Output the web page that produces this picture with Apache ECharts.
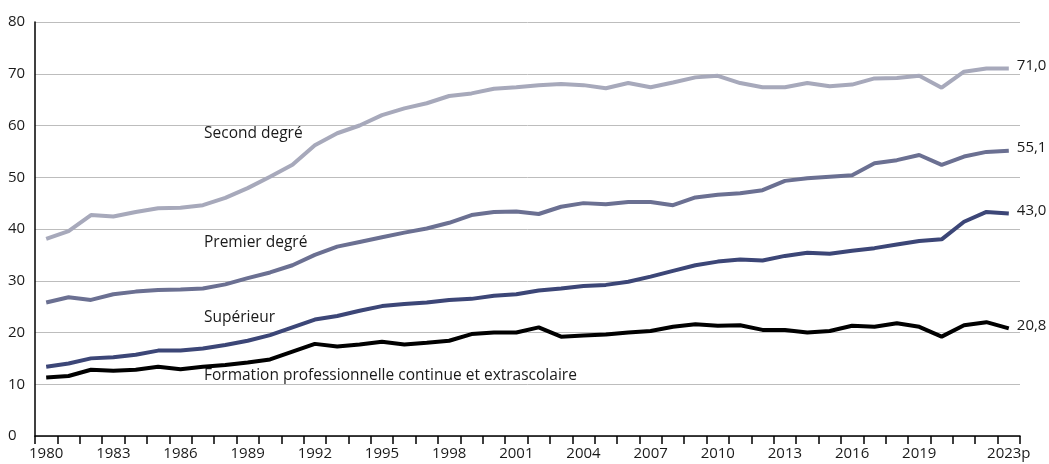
<!DOCTYPE html>
<html>
<head>
<meta charset="utf-8">
<script src="https://cdn.jsdelivr.net/npm/echarts@6/dist/echarts.min.js"></script>
<style>html,body{margin:0;padding:0;background:#fff}#c{width:1049px;height:464px}</style>
</head>
<body>
<div id="c"></div>
<script>
const years = ['1980','1981','1982','1983','1984','1985','1986','1987','1988','1989','1990','1991','1992','1993','1994','1995','1996','1997','1998','1999','2000','2001','2002','2003','2004','2005','2006','2007','2008','2009','2010','2011','2012','2013','2014','2015','2016','2017','2018','2019','2020','2021','2022','2023p'];
const secondDegre = [38.1,39.6,42.7,42.4,43.3,44.0,44.1,44.6,46.0,47.9,50.1,52.4,56.2,58.5,60.0,62.0,63.3,64.3,65.7,66.2,67.1,67.4,67.8,68.0,67.8,67.2,68.2,67.4,68.3,69.3,69.6,68.2,67.4,67.4,68.2,67.6,67.9,69.1,69.2,69.6,67.3,70.4,71.0,71.0];
const premierDegre = [25.8,26.8,26.3,27.4,27.9,28.2,28.3,28.5,29.3,30.5,31.6,33.0,35.0,36.6,37.5,38.4,39.3,40.1,41.2,42.7,43.3,43.4,42.9,44.3,45.0,44.8,45.2,45.2,44.6,46.1,46.6,46.9,47.5,49.3,49.8,50.1,50.4,52.7,53.3,54.3,52.4,54.0,54.9,55.1];
const superieur = [13.4,14.0,15.0,15.2,15.7,16.5,16.5,16.9,17.6,18.4,19.5,21.0,22.5,23.2,24.2,25.1,25.5,25.8,26.3,26.5,27.1,27.4,28.1,28.5,29.0,29.2,29.8,30.8,31.9,33.0,33.7,34.1,33.9,34.8,35.4,35.2,35.8,36.3,37.0,37.7,38.0,41.4,43.3,43.0];
const formation = [11.3,11.6,12.8,12.6,12.8,13.4,12.9,13.4,13.7,14.2,14.8,16.3,17.8,17.3,17.7,18.2,17.7,18.0,18.4,19.7,20.0,20.0,21.0,19.2,19.4,19.6,20.0,20.3,21.1,21.6,21.3,21.4,20.5,20.5,20.0,20.3,21.3,21.1,21.8,21.1,19.2,21.4,22.0,20.8];
const seriesNames = ['Second degré','Premier degré','Supérieur','Formation professionnelle continue et extrascolaire'];
const yTicks = [0,10,20,30,40,50,60,70,80];
const shownYearLabels = ['1980','1983','1986','1989','1992','1995','1998','2001','2004','2007','2010','2013','2016','2019','2023p'];

const FONT = 'Open Sans';
const colors = ['#a7a9bb','#6b7092','#3c4677','#000000'];
const dataSets = [secondDegre, premierDegre, superieur, formation];

const chart = echarts.init(document.getElementById('c'), null, {renderer:'canvas'});
const fmt = v => v.toFixed(1).replace('.', ',');

chart.setOption({
  animation: false,
  textStyle: {fontFamily: FONT},
  grid: {left: 35, right: 29, top: 22, bottom: 28, containLabel: false},
  xAxis: {
    type: 'category',
    data: years,
    boundaryGap: true,
    axisLine: {show: true, lineStyle: {color: '#000', width: 1.5}},
    axisTick: {show: true, interval: 0, length: 8, lineStyle: {color: '#000', width: 1.5}},
    axisLabel: {
      interval: (idx, val) => shownYearLabels.indexOf(val) >= 0,
      color: '#1a1a1a', fontSize: 15, margin: 10, fontFamily: FONT
    }
  },
  yAxis: {
    type: 'value',
    min: yTicks[0],
    max: yTicks[yTicks.length - 1],
    interval: 10,
    axisLine: {show: true, lineStyle: {color: '#000', width: 1.5}},
    axisTick: {show: false},
    splitLine: {show: true, lineStyle: {color: '#bdbdbd', width: 1}},
    axisLabel: {color: '#1a1a1a', fontSize: 15, align: 'left', margin: 27, padding: [0,0,8,0], fontFamily: FONT}
  },
  series: dataSets.map((d, i) => ({
    name: seriesNames[i],
    type: 'line',
    data: d,
    symbol: 'none',
    lineStyle: {color: colors[i], width: 4},
    itemStyle: {color: colors[i]},
    endLabel: {
      show: true,
      formatter: p => fmt(p.value),
      color: '#1a1a1a',
      fontSize: 15,
      distance: 8,
      offset: [0, -3],
      fontFamily: FONT
    },
    z: 10 - i
  })),
  graphic: [
    {type: 'text', left: 204, top: 126, style: {text: seriesNames[0], fontSize: 15.5, fill: '#1a1a1a', fontFamily: FONT}},
    {type: 'text', left: 204, top: 235, style: {text: seriesNames[1], fontSize: 15.5, fill: '#1a1a1a', fontFamily: FONT}},
    {type: 'text', left: 204, top: 310, style: {text: seriesNames[2], fontSize: 15.5, fill: '#1a1a1a', fontFamily: FONT}},
    {type: 'text', left: 204, top: 368, style: {text: seriesNames[3], fontSize: 15.5, fill: '#1a1a1a', fontFamily: FONT}}
  ]
});
</script>
</body>
</html>
